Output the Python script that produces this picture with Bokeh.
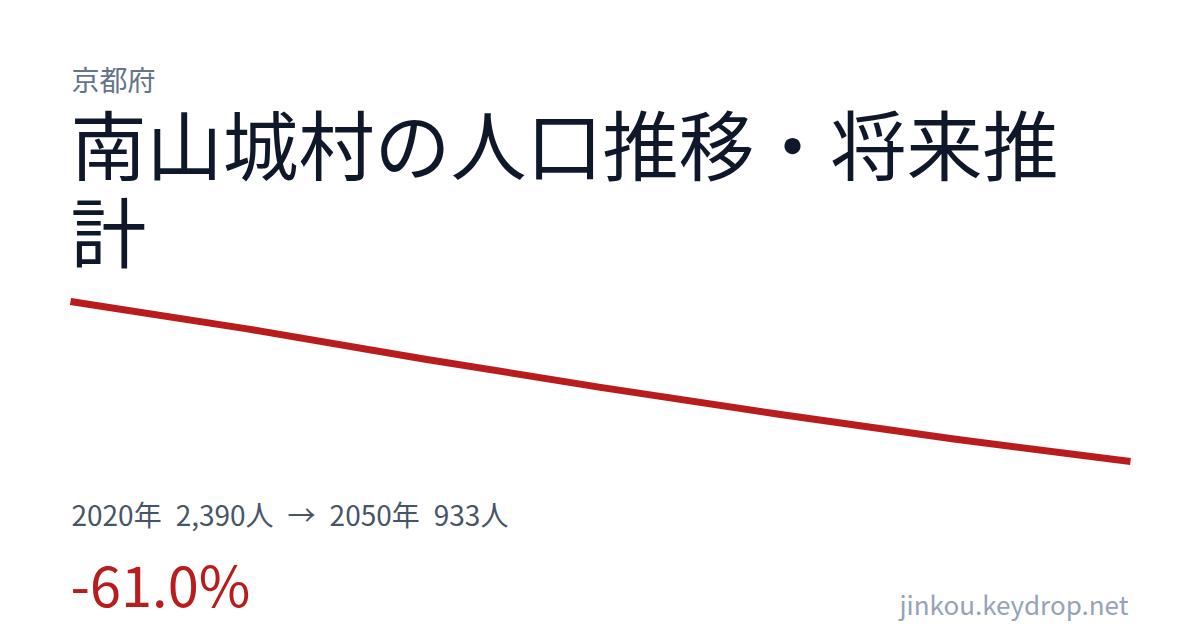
from bokeh.plotting import figure
from bokeh.models import Range1d, Label
from bokeh.embed import file_html
from bokeh.resources import INLINE

# ===== DATA =====
pref = "京都府"
title_line1 = "南山城村の人口推移・将来推"
title_line2 = "計"
years = [2020, 2025, 2030, 2035, 2040, 2045, 2050]
population = [2390, 2141, 1867, 1608, 1366, 1138, 933]

FONT = "Noto Sans CJK JP"
W, H = 1200, 630
SP = "\u2002"  # wider gap, as in the original


def py(y):
    # page y (from top) -> canvas y (from bottom)
    return H - y


# line spans page x 70..1130, y 301..461
x0, x1 = 70, 1130
y0, y1 = py(301), py(461)
kx = (years[-1] - years[0]) / (x1 - x0)
ky = (population[0] - population[-1]) / (y0 - y1)
x_range = Range1d(years[0] - x0 * kx, years[-1] + (W - x1) * kx)
y_range = Range1d(population[-1] - y1 * ky, population[0] + (H - y0) * ky)

p = figure(width=W, height=H, x_range=x_range, y_range=y_range,
           output_backend="svg", toolbar_location=None, min_border=0)
p.axis.visible = False
p.grid.visible = False
p.outline_line_color = None
p.background_fill_color = "white"
p.border_fill_color = "white"

p.line(years, population, line_color="#B91C1C", line_width=7,
       line_join="round", line_cap="butt")


def label(text, x, baseline, size, color, align="left"):
    # the svg text lands ~0.45em under the given y, so lift it
    p.add_layout(Label(x=x, y=py(baseline - 0.45 * size),
                       x_units="screen", y_units="screen",
                       text=text, text_font=FONT, text_font_size=f"{size}px",
                       text_color=color, text_align=align,
                       text_baseline="alphabetic"))


first, last = population[0], population[-1]
change = (last - first) / first * 100

label(pref, 71, 91, 28, "#64748B")
label(title_line1, 70, 176, 76, "#0F172A")
label(title_line2, 70, 263, 76, "#0F172A")
label(f"{years[0]}年{SP}{first:,}人{SP}→{SP}{years[-1]}年{SP}{last:,}人", 71, 526, 28, "#475569")
label(f"{change:.1f}%", 70, 607, 56, "#B91C1C")
label("jinkou.keydrop.net", 1128, 615, 26, "#94A3B8", align="right")

open("out.html", "w").write(file_html(p, INLINE))
